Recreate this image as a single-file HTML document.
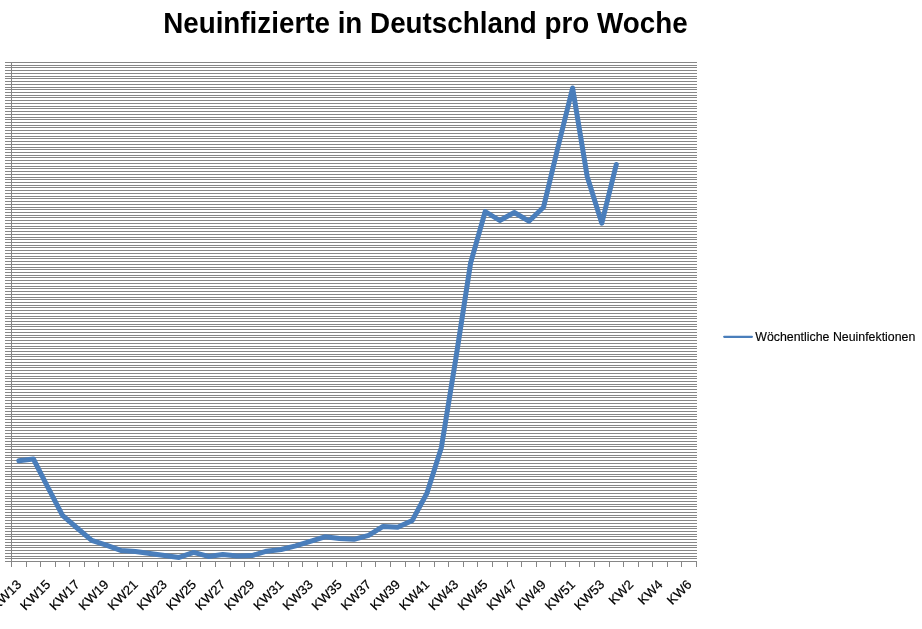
<!DOCTYPE html>
<html lang="de"><head><meta charset="utf-8"><title>Neuinfizierte in Deutschland pro Woche</title>
<style>html,body{margin:0;padding:0;background:#fff;overflow:hidden}svg{display:block}text{font-family:"Liberation Sans",sans-serif}</style></head><body>
<svg width="922" height="629" viewBox="0 0 922 629">
<rect width="922" height="629" fill="#fff"/>
<path d="M5 62.5H697M5 65.5H697M5 67.5H697M5 70.5H697M5 73.5H697M5 76.5H697M5 78.5H697M5 81.5H697M5 84.5H697M5 87.5H697M5 89.5H697M5 92.5H697M5 95.5H697M5 97.5H697M5 100.5H697M5 103.5H697M5 106.5H697M5 108.5H697M5 111.5H697M5 114.5H697M5 117.5H697M5 119.5H697M5 122.5H697M5 125.5H697M5 127.5H697M5 130.5H697M5 133.5H697M5 136.5H697M5 138.5H697M5 141.5H697M5 144.5H697M5 147.5H697M5 149.5H697M5 152.5H697M5 155.5H697M5 157.5H697M5 160.5H697M5 163.5H697M5 166.5H697M5 168.5H697M5 171.5H697M5 174.5H697M5 177.5H697M5 179.5H697M5 182.5H697M5 185.5H697M5 187.5H697M5 190.5H697M5 193.5H697M5 196.5H697M5 198.5H697M5 201.5H697M5 204.5H697M5 207.5H697M5 209.5H697M5 212.5H697M5 215.5H697M5 217.5H697M5 220.5H697M5 223.5H697M5 226.5H697M5 228.5H697M5 231.5H697M5 234.5H697M5 237.5H697M5 239.5H697M5 242.5H697M5 245.5H697M5 247.5H697M5 250.5H697M5 253.5H697M5 256.5H697M5 258.5H697M5 261.5H697M5 264.5H697M5 267.5H697M5 269.5H697M5 272.5H697M5 275.5H697M5 277.5H697M5 280.5H697M5 283.5H697M5 286.5H697M5 288.5H697M5 291.5H697M5 294.5H697M5 297.5H697M5 299.5H697M5 302.5H697M5 305.5H697M5 307.5H697M5 310.5H697M5 313.5H697M5 316.5H697M5 318.5H697M5 321.5H697M5 324.5H697M5 326.5H697M5 329.5H697M5 332.5H697M5 335.5H697M5 337.5H697M5 340.5H697M5 343.5H697M5 346.5H697M5 348.5H697M5 351.5H697M5 354.5H697M5 356.5H697M5 359.5H697M5 362.5H697M5 365.5H697M5 367.5H697M5 370.5H697M5 373.5H697M5 376.5H697M5 378.5H697M5 381.5H697M5 384.5H697M5 386.5H697M5 389.5H697M5 392.5H697M5 395.5H697M5 397.5H697M5 400.5H697M5 403.5H697M5 406.5H697M5 408.5H697M5 411.5H697M5 414.5H697M5 416.5H697M5 419.5H697M5 422.5H697M5 425.5H697M5 427.5H697M5 430.5H697M5 433.5H697M5 436.5H697M5 438.5H697M5 441.5H697M5 444.5H697M5 446.5H697M5 449.5H697M5 452.5H697M5 455.5H697M5 457.5H697M5 460.5H697M5 463.5H697M5 466.5H697M5 468.5H697M5 471.5H697M5 474.5H697M5 476.5H697M5 479.5H697M5 482.5H697M5 485.5H697M5 487.5H697M5 490.5H697M5 493.5H697M5 496.5H697M5 498.5H697M5 501.5H697M5 504.5H697M5 506.5H697M5 509.5H697M5 512.5H697M5 515.5H697M5 517.5H697M5 520.5H697M5 523.5H697M5 526.5H697M5 528.5H697M5 531.5H697M5 534.5H697M5 536.5H697M5 539.5H697M5 542.5H697M5 545.5H697M5 547.5H697M5 550.5H697M5 553.5H697M5 556.5H697M5 558.5H697M5 561.5H697" stroke="#868686" stroke-width="1" fill="none" shape-rendering="crispEdges"/>
<path d="M11.5 62V567M26.5 562V567M40.5 562V567M55.5 562V567M69.5 562V567M84.5 562V567M98.5 562V567M113.5 562V567M128.5 562V567M142.5 562V567M157.5 562V567M171.5 562V567M186.5 562V567M200.5 562V567M215.5 562V567M230.5 562V567M244.5 562V567M259.5 562V567M273.5 562V567M288.5 562V567M302.5 562V567M317.5 562V567M332.5 562V567M346.5 562V567M361.5 562V567M375.5 562V567M390.5 562V567M405.5 562V567M419.5 562V567M434.5 562V567M448.5 562V567M463.5 562V567M477.5 562V567M492.5 562V567M507.5 562V567M521.5 562V567M536.5 562V567M550.5 562V567M565.5 562V567M579.5 562V567M594.5 562V567M609.5 562V567M623.5 562V567M638.5 562V567M652.5 562V567M667.5 562V567M681.5 562V567M696.5 562V567" stroke="#868686" stroke-width="1" fill="none" shape-rendering="crispEdges"/>
<polyline points="18.8,460.7 33.4,459 47.9,487.4 62.5,515.4 77.1,528 91.7,540.4 106.2,545.2 120.8,550.4 135.4,551.4 150.0,553.4 164.5,555.4 179.1,557.4 193.7,552.4 208.3,556.4 222.8,554.6 237.4,556 252.0,555.6 266.6,551.2 281.1,549.5 295.7,545.8 310.3,541.3 324.9,536.8 339.4,538.4 354.0,539.3 368.6,535.4 383.1,526.4 397.7,527.2 412.3,520.4 426.9,493.2 441.4,447.4 456.0,357.5 470.6,263 485.2,211.5 499.7,220.5 514.3,212.5 528.9,221.2 543.5,207.3 558.0,147 572.6,88 587.2,176.5 601.8,223.2 616.3,164.5" fill="none" stroke="#4a7ebb" stroke-width="5" stroke-linejoin="round" stroke-linecap="round"/>
<text x="425.4" y="32.6" text-anchor="middle" font-size="29" font-weight="bold" fill="#000" textLength="524.5" lengthAdjust="spacingAndGlyphs">Neuinfizierte in Deutschland pro Woche</text>
<path d="M724.2 336.8H751.9" stroke="#4a7ebb" stroke-width="2.2" fill="none" stroke-linecap="round"/>
<text x="755.3" y="340.9" font-size="12" fill="#000" stroke="#000" stroke-width="0.15" textLength="160" lengthAdjust="spacingAndGlyphs">Wöchentliche Neuinfektionen</text>
<text transform="translate(22.1 585.3) rotate(-45)" text-anchor="end" font-size="13" fill="#000" stroke="#000" stroke-width="0.2" textLength="36.2" lengthAdjust="spacingAndGlyphs">KW13</text>
<text transform="translate(51.2 585.3) rotate(-45)" text-anchor="end" font-size="13" fill="#000" stroke="#000" stroke-width="0.2" textLength="36.2" lengthAdjust="spacingAndGlyphs">KW15</text>
<text transform="translate(80.4 585.3) rotate(-45)" text-anchor="end" font-size="13" fill="#000" stroke="#000" stroke-width="0.2" textLength="36.2" lengthAdjust="spacingAndGlyphs">KW17</text>
<text transform="translate(109.5 585.3) rotate(-45)" text-anchor="end" font-size="13" fill="#000" stroke="#000" stroke-width="0.2" textLength="36.2" lengthAdjust="spacingAndGlyphs">KW19</text>
<text transform="translate(138.7 585.3) rotate(-45)" text-anchor="end" font-size="13" fill="#000" stroke="#000" stroke-width="0.2" textLength="36.2" lengthAdjust="spacingAndGlyphs">KW21</text>
<text transform="translate(167.8 585.3) rotate(-45)" text-anchor="end" font-size="13" fill="#000" stroke="#000" stroke-width="0.2" textLength="36.2" lengthAdjust="spacingAndGlyphs">KW23</text>
<text transform="translate(197.0 585.3) rotate(-45)" text-anchor="end" font-size="13" fill="#000" stroke="#000" stroke-width="0.2" textLength="36.2" lengthAdjust="spacingAndGlyphs">KW25</text>
<text transform="translate(226.1 585.3) rotate(-45)" text-anchor="end" font-size="13" fill="#000" stroke="#000" stroke-width="0.2" textLength="36.2" lengthAdjust="spacingAndGlyphs">KW27</text>
<text transform="translate(255.3 585.3) rotate(-45)" text-anchor="end" font-size="13" fill="#000" stroke="#000" stroke-width="0.2" textLength="36.2" lengthAdjust="spacingAndGlyphs">KW29</text>
<text transform="translate(284.4 585.3) rotate(-45)" text-anchor="end" font-size="13" fill="#000" stroke="#000" stroke-width="0.2" textLength="36.2" lengthAdjust="spacingAndGlyphs">KW31</text>
<text transform="translate(313.6 585.3) rotate(-45)" text-anchor="end" font-size="13" fill="#000" stroke="#000" stroke-width="0.2" textLength="36.2" lengthAdjust="spacingAndGlyphs">KW33</text>
<text transform="translate(342.7 585.3) rotate(-45)" text-anchor="end" font-size="13" fill="#000" stroke="#000" stroke-width="0.2" textLength="36.2" lengthAdjust="spacingAndGlyphs">KW35</text>
<text transform="translate(371.9 585.3) rotate(-45)" text-anchor="end" font-size="13" fill="#000" stroke="#000" stroke-width="0.2" textLength="36.2" lengthAdjust="spacingAndGlyphs">KW37</text>
<text transform="translate(401.0 585.3) rotate(-45)" text-anchor="end" font-size="13" fill="#000" stroke="#000" stroke-width="0.2" textLength="36.2" lengthAdjust="spacingAndGlyphs">KW39</text>
<text transform="translate(430.2 585.3) rotate(-45)" text-anchor="end" font-size="13" fill="#000" stroke="#000" stroke-width="0.2" textLength="36.2" lengthAdjust="spacingAndGlyphs">KW41</text>
<text transform="translate(459.3 585.3) rotate(-45)" text-anchor="end" font-size="13" fill="#000" stroke="#000" stroke-width="0.2" textLength="36.2" lengthAdjust="spacingAndGlyphs">KW43</text>
<text transform="translate(488.5 585.3) rotate(-45)" text-anchor="end" font-size="13" fill="#000" stroke="#000" stroke-width="0.2" textLength="36.2" lengthAdjust="spacingAndGlyphs">KW45</text>
<text transform="translate(517.6 585.3) rotate(-45)" text-anchor="end" font-size="13" fill="#000" stroke="#000" stroke-width="0.2" textLength="36.2" lengthAdjust="spacingAndGlyphs">KW47</text>
<text transform="translate(546.8 585.3) rotate(-45)" text-anchor="end" font-size="13" fill="#000" stroke="#000" stroke-width="0.2" textLength="36.2" lengthAdjust="spacingAndGlyphs">KW49</text>
<text transform="translate(575.9 585.3) rotate(-45)" text-anchor="end" font-size="13" fill="#000" stroke="#000" stroke-width="0.2" textLength="36.2" lengthAdjust="spacingAndGlyphs">KW51</text>
<text transform="translate(605.1 585.3) rotate(-45)" text-anchor="end" font-size="13" fill="#000" stroke="#000" stroke-width="0.2" textLength="36.2" lengthAdjust="spacingAndGlyphs">KW53</text>
<text transform="translate(634.2 585.3) rotate(-45)" text-anchor="end" font-size="13" fill="#000" stroke="#000" stroke-width="0.2" textLength="28.6" lengthAdjust="spacingAndGlyphs">KW2</text>
<text transform="translate(663.4 585.3) rotate(-45)" text-anchor="end" font-size="13" fill="#000" stroke="#000" stroke-width="0.2" textLength="28.6" lengthAdjust="spacingAndGlyphs">KW4</text>
<text transform="translate(692.5 585.3) rotate(-45)" text-anchor="end" font-size="13" fill="#000" stroke="#000" stroke-width="0.2" textLength="28.6" lengthAdjust="spacingAndGlyphs">KW6</text>
</svg></body></html>
